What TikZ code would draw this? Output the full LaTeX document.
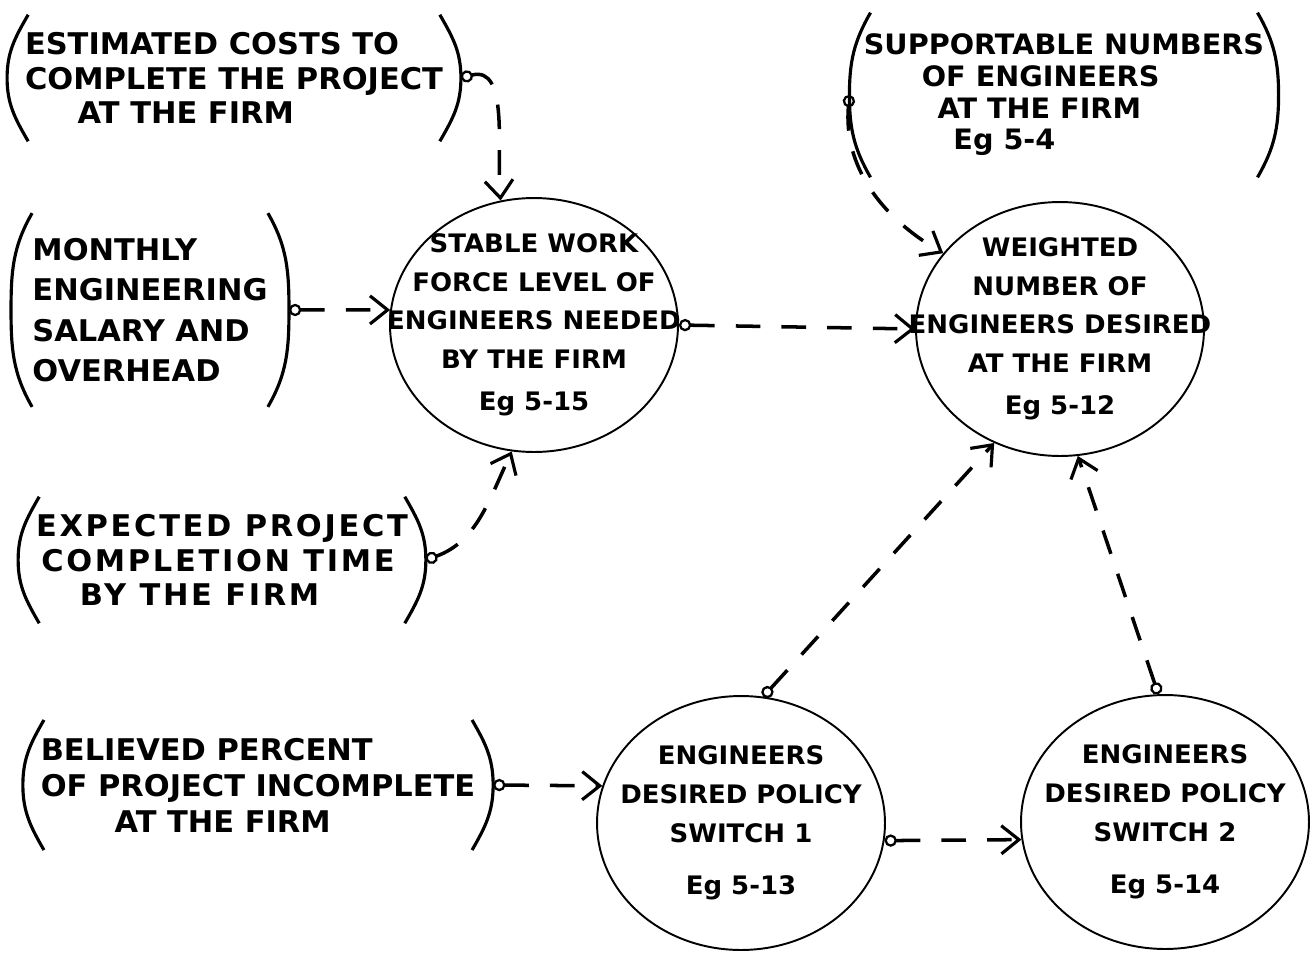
\documentclass[tikz,border=0pt]{standalone}
\usepackage{fontspec}
\setmainfont{DejaVu Sans}[FakeStretch=1.02]
\usetikzlibrary{shapes,arrows.meta,positioning,calc}

\tikzset{
  sector/.style={ellipse, draw, line width=1.1pt, minimum width=5.76cm, minimum height=5.08cm,
    inner xsep=-60pt, inner ysep=-40pt, align=center, font=\bfseries\fontsize{14.5}{22}\selectfont},
  aux/.style={inner xsep=6pt, inner ysep=8pt, align=left, font=\bfseries\fontsize{17}{19.5}\selectfont},
  paren/.style={line width=1.8pt},
  link/.style={line width=2pt, dash pattern=on 14pt off 12pt,
    {Circle[open,length=7pt,line width=1.3pt]}-{Straight Barb[length=10pt,width=16pt,line width=1.8pt]}}
}
% ( ... ) round a parameter
\newcommand{\parens}[1]{
  \draw[paren] ([xshift=12pt]#1.north west) to[out=240,in=90] (#1.west) to[out=-90,in=120] ([xshift=12pt]#1.south west);
  \draw[paren] ([xshift=-12pt]#1.north east) to[out=-60,in=90] (#1.east) to[out=-90,in=60] ([xshift=-12pt]#1.south east);
}

\begin{document}
\begin{tikzpicture}[x=0.02cm,y=0.02cm]
\useasboundingbox (0,0) rectangle (1313,-954);

% sectors
\node[sector] (stable) at (534,-325) {STABLE WORK\\FORCE LEVEL OF\\ENGINEERS NEEDED\\BY THE FIRM\\[2pt]Eg 5-15};
\node[sector] (weighted) at (1060,-329) {WEIGHTED\\NUMBER OF\\ENGINEERS DESIRED\\AT THE FIRM\\[2pt]Eg 5-12};
\node[sector] (sw1) at (741,-823) {ENGINEERS\\DESIRED POLICY\\SWITCH 1\\[8pt]Eg 5-13};
\node[sector] (sw2) at (1165,-822) {ENGINEERS\\DESIRED POLICY\\SWITCH 2\\[8pt]Eg 5-14};

% parameters
\node[aux, inner xsep=10pt, inner ysep=10pt] (est) at (234,-78) {ESTIMATED COSTS TO\\COMPLETE THE PROJECT\\\hspace*{30pt}AT THE FIRM};
\node[aux, inner xsep=12pt, inner ysep=14pt, font=\bfseries\fontsize{17}{23}\selectfont] (mon) at (150,-310) {MONTHLY\\ENGINEERING\\SALARY AND\\OVERHEAD};
\node[aux, inner xsep=10pt, inner ysep=10pt, font=\bfseries\fontsize{17}{19.5}\selectfont\addfontfeature{LetterSpace=9}] (exp) at (222,-560) {EXPECTED PROJECT\\\hspace*{3pt}COMPLETION TIME\\\hspace*{25pt}BY THE FIRM};
\node[aux, inner xsep=10pt, inner ysep=10pt, font=\bfseries\fontsize{17}{20.5}\selectfont] (bel) at (258,-785) {BELIEVED PERCENT\\OF PROJECT INCOMPLETE\\\hspace*{42pt}AT THE FIRM};
\node[aux, inner xsep=8pt, inner ysep=12pt, font=\bfseries\fontsize{16}{18}\selectfont] (sup) at (1064,-95) {SUPPORTABLE NUMBERS\\\hspace*{33pt}OF ENGINEERS\\\hspace*{42pt}AT THE FIRM\\\hspace*{51pt}Eg 5-4};
\parens{est}
\parens{mon}
\parens{exp}
\parens{bel}
\parens{sup}

% links
\draw[link] (est.east) to[out=15,in=95] (stable.105);
\draw[link] (mon.east) -- (stable.174);
\draw[link] (exp.east) to[out=20,in=245] (stable.260);
\draw[link] (stable.east) -- (weighted.west);
\draw[link] (sup.west) to[out=265,in=150] (weighted.147);
\draw[link] (sw1.80) -- (weighted.240);
\draw[link] (sw2.93) -- (weighted.278);
\draw[link] (bel.east) -- (sw1.165);
\draw[link] (sw1.-7) -- (sw2.187);
\end{tikzpicture}
\end{document}
